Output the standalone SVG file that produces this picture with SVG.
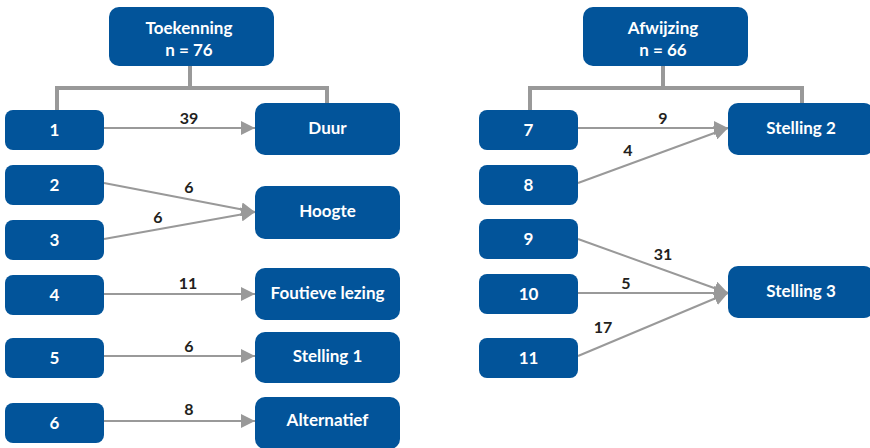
<svg xmlns="http://www.w3.org/2000/svg" width="870" height="448" viewBox="0 0 870 448">
<style>
.n{fill:#02549a}
.t{fill:#fff;font-family:Lato,"Open Sans",sans-serif;font-weight:bold;font-size:17px;text-anchor:middle}
.l{fill:#231f20;font-family:Lato,"Open Sans",sans-serif;font-weight:bold;font-size:16px;text-anchor:middle}
.b{fill:none;stroke:#999;stroke-width:4}
.a{fill:none;stroke:#999;stroke-width:2;marker-end:url(#ah)}
</style>
<defs>
<marker id="ah" markerUnits="userSpaceOnUse" markerWidth="14" markerHeight="14" viewBox="0 0 12 12" refX="12" refY="6" orient="auto">
<path d="M0,0 L12,6 L0,12 Z" fill="#999"/>
</marker>
</defs>
<rect width="870" height="448" fill="#fff"/>
<g id="connectors">
<path class="b" d="M190,66 V88 M57,110 V88 H327 V103"/>
<path class="b" d="M663,66 V88 M530,110 V88 H802 V103"/>
<line class="a" x1="104" y1="128" x2="255" y2="128"/>
<line class="a" x1="104" y1="183" x2="255" y2="212"/>
<line class="a" x1="104" y1="239" x2="255" y2="212"/>
<line class="a" x1="104" y1="294" x2="255" y2="294"/>
<line class="a" x1="104" y1="356" x2="255" y2="356"/>
<line class="a" x1="104" y1="421" x2="255" y2="421"/>
<line class="a" x1="578" y1="128" x2="728" y2="128"/>
<line class="a" x1="578" y1="183" x2="728" y2="128"/>
<line class="a" x1="578" y1="239" x2="728" y2="293"/>
<line class="a" x1="578" y1="293" x2="728" y2="293"/>
<line class="a" x1="578" y1="356" x2="728" y2="293"/>
<text class="l" x="189" y="124">39</text>
<text class="l" x="189" y="193">6</text>
<text class="l" x="158" y="223">6</text>
<text class="l" x="188" y="289">11</text>
<text class="l" x="189" y="352">6</text>
<text class="l" x="189" y="415">8</text>
<text class="l" x="663" y="124">9</text>
<text class="l" x="628" y="156">4</text>
<text class="l" x="663" y="260">31</text>
<text class="l" x="626" y="289">5</text>
<text class="l" x="603" y="333">17</text>
</g>
<g id="toekenning"><rect class="n" x="109" y="7" width="165" height="59" rx="10"/><text class="t" x="189" y="34">Toekenning</text><text class="t" x="189" y="56">n = 76</text></g>
<g id="afwijzing"><rect class="n" x="583" y="7" width="165" height="59" rx="10"/><text class="t" x="663" y="34">Afwijzing</text><text class="t" x="663" y="56">n = 66</text></g>
<g id="n1"><rect class="n" x="5" y="110" width="99" height="40" rx="8"/><text class="t" x="54.5" y="136">1</text></g>
<g id="n2"><rect class="n" x="5" y="165" width="99" height="40" rx="8"/><text class="t" x="54.5" y="191">2</text></g>
<g id="n3"><rect class="n" x="5" y="220" width="99" height="40" rx="8"/><text class="t" x="54.5" y="246">3</text></g>
<g id="n4"><rect class="n" x="5" y="275" width="99" height="40" rx="8"/><text class="t" x="54.5" y="301">4</text></g>
<g id="n5"><rect class="n" x="5" y="338" width="99" height="40" rx="8"/><text class="t" x="54.5" y="364">5</text></g>
<g id="n6"><rect class="n" x="5" y="403" width="99" height="40" rx="8"/><text class="t" x="54.5" y="429">6</text></g>
<g id="duur"><rect class="n" x="255" y="103" width="145" height="52" rx="10"/><text class="t" x="327.5" y="134">Duur</text></g>
<g id="hoogte"><rect class="n" x="255" y="186" width="145" height="53" rx="10"/><text class="t" x="327.5" y="217">Hoogte</text></g>
<g id="foutieve"><rect class="n" x="255" y="268" width="145" height="52" rx="10"/><text class="t" x="327.5" y="299">Foutieve lezing</text></g>
<g id="stelling1"><rect class="n" x="255" y="332" width="145" height="51" rx="10"/><text class="t" x="327.5" y="362">Stelling 1</text></g>
<g id="alternatief"><rect class="n" x="255" y="397" width="145" height="52" rx="10"/><text class="t" x="327.5" y="426">Alternatief</text></g>
<g id="n7"><rect class="n" x="479" y="110" width="99" height="40" rx="8"/><text class="t" x="528.5" y="136">7</text></g>
<g id="n8"><rect class="n" x="479" y="165" width="99" height="40" rx="8"/><text class="t" x="528.5" y="191">8</text></g>
<g id="n9"><rect class="n" x="479" y="219" width="99" height="40" rx="8"/><text class="t" x="528.5" y="245">9</text></g>
<g id="n10"><rect class="n" x="479" y="274" width="99" height="40" rx="8"/><text class="t" x="528.5" y="300">10</text></g>
<g id="n11"><rect class="n" x="479" y="338" width="99" height="40" rx="8"/><text class="t" x="528.5" y="364">11</text></g>
<g id="stelling2"><rect class="n" x="728" y="103" width="146" height="52" rx="10"/><text class="t" x="801" y="134">Stelling 2</text></g>
<g id="stelling3"><rect class="n" x="728" y="266" width="146" height="52" rx="10"/><text class="t" x="801" y="297">Stelling 3</text></g>
</svg>
